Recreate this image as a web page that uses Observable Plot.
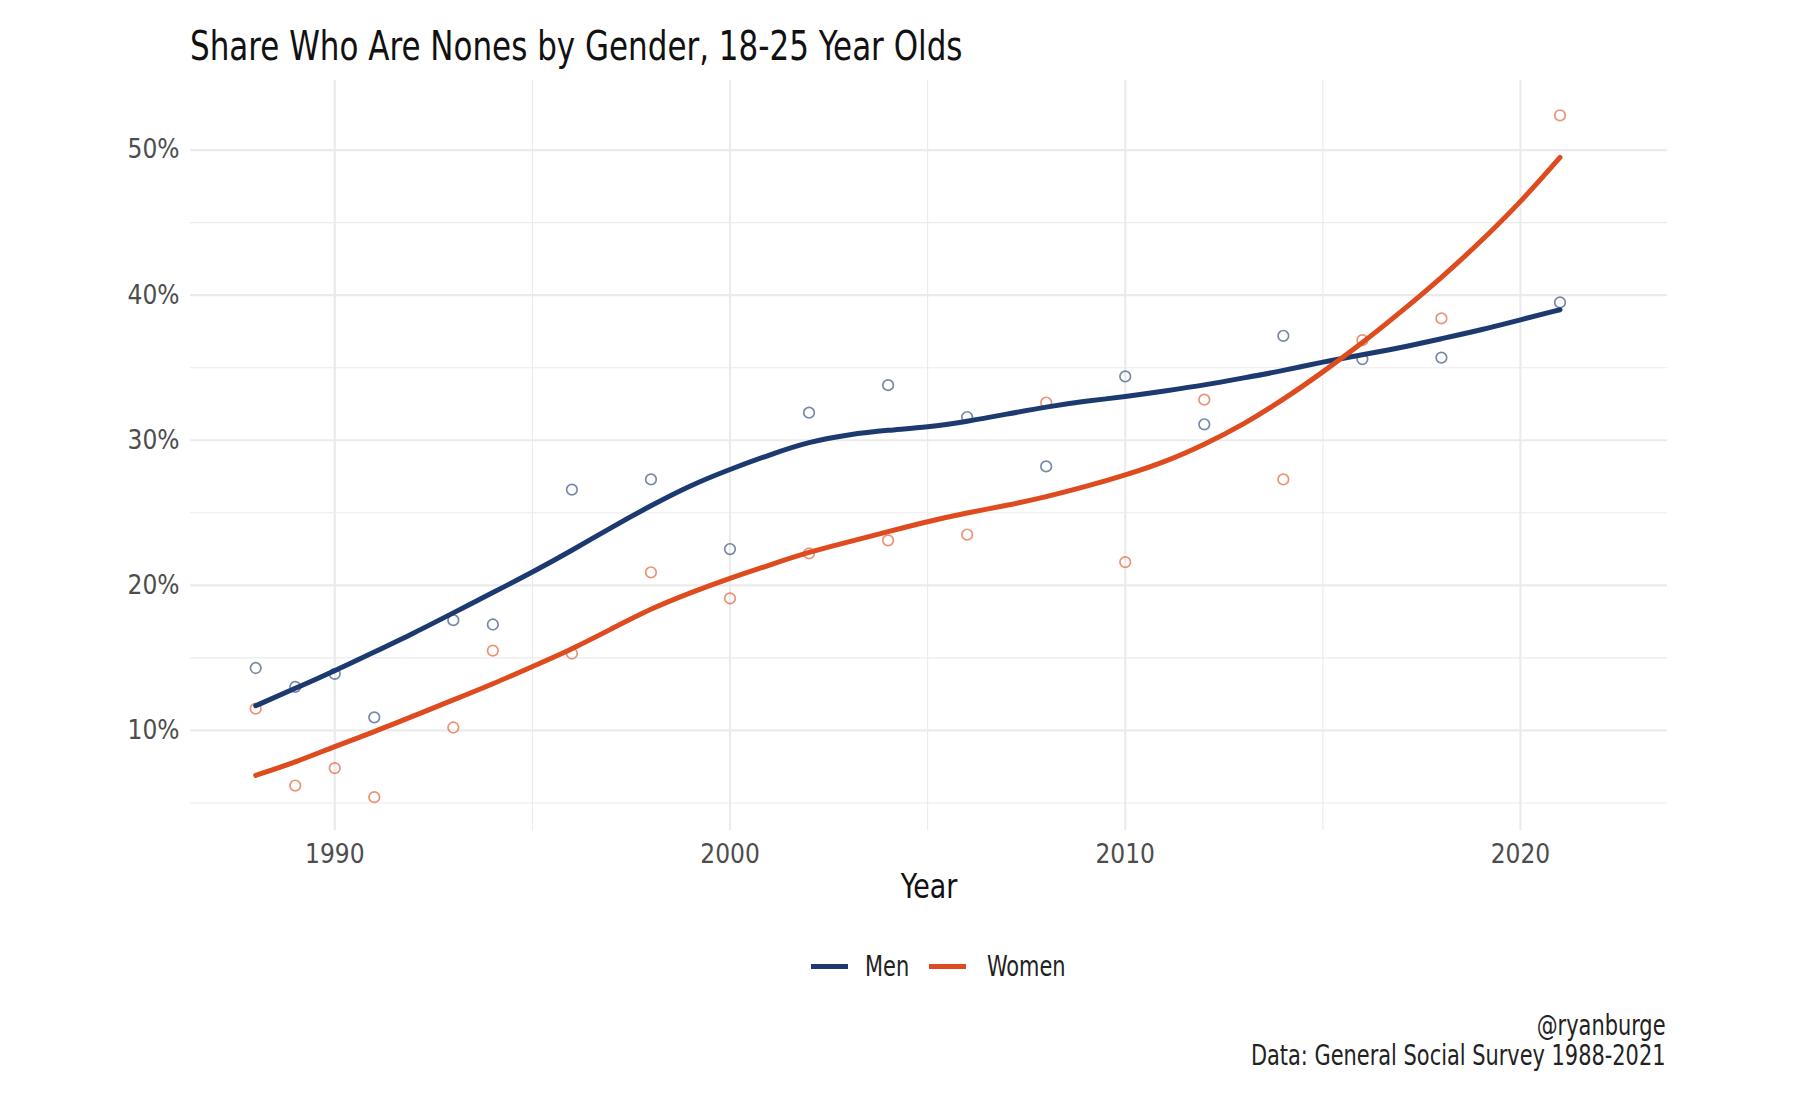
<!DOCTYPE html>
<html>
<head>
<meta charset="utf-8">
<script src="https://cdn.jsdelivr.net/npm/d3@7"></script>
<script src="https://cdn.jsdelivr.net/npm/@observablehq/plot@0.6"></script>
<style>
  html, body { margin: 0; padding: 0; background: #fff; }
  #wrap { position: relative; width: 1808px; height: 1104px; overflow: hidden;
          font-family: "Liberation Sans Narrow", "DejaVu Sans Condensed", "Roboto Condensed", "Noto Sans", sans-serif; }
  #title { position: absolute; left: 190px; top: 26px; font-size: 41px; line-height: 1; color: #111; white-space: nowrap;
           transform: scaleX(0.84); transform-origin: 0 0; }
  #chart { position: absolute; left: 0; top: 70px; }
  .leg { position: absolute; top: 948px; height: 38px; line-height: 38px; font-size: 28px; color: #222; white-space: nowrap;
         transform: scaleX(0.83); transform-origin: 0 50%; }
  .sw { position: absolute; top: 964px; width: 37px; height: 5px; }
  #caption { position: absolute; right: 142px; top: 1011px; text-align: right; font-size: 28px; line-height: 30px; color: #222; white-space: nowrap;
             transform: scaleX(0.83); transform-origin: 100% 0; }
</style>
</head>
<body>
<div id="wrap">
  <div id="title"></div>
  <div id="chart"></div>
  <div id="caption"></div>
</div>
<script>
// ---- data ----
const pointYears = [1988, 1989, 1990, 1991, 1993, 1994, 1996, 1998, 2000, 2002, 2004, 2006, 2008, 2010, 2012, 2014, 2016, 2018, 2021];
const menPoints   = [14.3, 13.0, 13.9, 10.9, 17.6, 17.3, 26.6, 27.3, 22.5, 31.9, 33.8, 31.6, 28.2, 34.4, 31.1, 37.2, 35.6, 35.7, 39.5];
const womenPoints = [11.5, 6.2, 7.4, 5.4, 10.2, 15.5, 15.3, 20.9, 19.1, 22.2, 23.1, 23.5, 32.6, 21.6, 32.8, 27.3, 36.9, 38.4, 52.4];

const smoothYears = [1988, 1989, 1990, 1991, 1992, 1993, 1994, 1995, 1996, 1997, 1998, 1999, 2000, 2001, 2002, 2003, 2004, 2005, 2006, 2007, 2008, 2009, 2010, 2011, 2012, 2013, 2014, 2015, 2016, 2017, 2018, 2019, 2020, 2021];
const menSmooth   = [11.7, 12.9, 14.1, 15.4, 16.7, 18.1, 19.5, 20.9, 22.4, 24.0, 25.5, 26.9, 28.0, 29.0, 29.9, 30.4, 30.7, 30.9, 31.3, 31.8, 32.3, 32.7, 33.0, 33.4, 33.8, 34.3, 34.8, 35.4, 35.9, 36.4, 37.0, 37.6, 38.3, 39.0];
const womenSmooth = [6.9, 7.8, 8.9, 9.9, 11.0, 12.1, 13.2, 14.4, 15.6, 17.0, 18.4, 19.5, 20.5, 21.4, 22.3, 23.0, 23.7, 24.4, 25.0, 25.5, 26.1, 26.8, 27.6, 28.5, 29.7, 31.1, 32.8, 34.7, 36.7, 38.9, 41.2, 43.7, 46.4, 49.5];

const groups = ["Men", "Women"];
const colors = ["#1d3a70", "#dd4b1e"];
const xMajor = [1990, 2000, 2010, 2020];
const xMinor = [1995, 2005, 2015];
const yMajor = [10, 20, 30, 40, 50];
const yMinor = [5, 15, 25, 35, 45];
const titleText = "Share Who Are Nones by Gender, 18-25 Year Olds";
const xLabel = "Year";
const captionLines = ["@ryanburge", "Data: General Social Survey 1988-2021"];

// ---- tables ----
const points = [
  ...pointYears.map((y, i) => ({year: y, value: menPoints[i], group: groups[0]})),
  ...pointYears.map((y, i) => ({year: y, value: womenPoints[i], group: groups[1]}))
];
const smooth = [
  ...smoothYears.map((y, i) => ({year: y, value: menSmooth[i], group: groups[0]})),
  ...smoothYears.map((y, i) => ({year: y, value: womenSmooth[i], group: groups[1]}))
];

const font = '"Liberation Sans Narrow", "DejaVu Sans Condensed", "Roboto Condensed", "Noto Sans", sans-serif';
const grid = "#ebebeb";

const chart = Plot.plot({
  width: 1808,
  height: 850,
  marginLeft: 190,
  marginRight: 141,
  marginTop: 10,
  marginBottom: 90,
  style: {fontFamily: font, background: "transparent", overflow: "visible"},
  x: {domain: [1986.35, 2023.72], label: null},
  y: {domain: [3.1, 54.8], label: null},
  color: {domain: groups, range: colors},
  marks: [
    Plot.ruleX(xMinor, {stroke: grid, strokeWidth: 1.1}),
    Plot.ruleY(yMinor, {stroke: grid, strokeWidth: 1.1}),
    Plot.ruleX(xMajor, {stroke: grid, strokeWidth: 2.2}),
    Plot.ruleY(yMajor, {stroke: grid, strokeWidth: 2.2}),
    Plot.dot(points, {x: "year", y: "value", stroke: "group", r: 5.3, strokeWidth: 1.7, strokeOpacity: 0.6, fill: "none"}),
    Plot.line(smooth, {x: "year", y: "value", stroke: "group", z: "group", strokeWidth: 5, curve: "basis"}),
    Plot.axisX({ticks: xMajor, tickFormat: d => String(d), tickSize: 0, tickPadding: 14, fontSize: 26, color: "#4d4d4d", label: null}),
    Plot.axisY({ticks: yMajor, tickFormat: d => d + "%", tickSize: 0, tickPadding: 11, fontSize: 26, color: "#4d4d4d", label: null}),
    Plot.text([xLabel], {frameAnchor: "bottom", dy: 67, fontSize: 34, fill: "#111", className: "xlabel"})
  ]
});
document.getElementById("chart").appendChild(chart);

// narrow the axis title horizontally (the reference uses a condensed face)
chart.querySelectorAll(".xlabel text").forEach(t => {
  const tr = t.getAttribute("transform") || "";
  const x = t.getAttribute("x"), y = t.getAttribute("y");
  let pre = tr;
  if (x !== null || y !== null) {
    pre += ` translate(${x || 0},${y || 0})`;
    t.removeAttribute("x"); t.removeAttribute("y");
  }
  t.setAttribute("transform", `${pre} scale(0.88,1)`);
});

// legend
const wrap = document.getElementById("wrap");
const swLeft = [811, 929];
const labLeft = [865, 987];
groups.forEach((g, i) => {
  const sw = document.createElement("div");
  sw.className = "sw";
  sw.style.left = swLeft[i] + "px";
  sw.style.background = colors[i];
  const lab = document.createElement("div");
  lab.className = "leg";
  lab.style.left = labLeft[i] + "px";
  lab.textContent = g;
  wrap.appendChild(sw);
  wrap.appendChild(lab);
});

// caption
const cap = document.getElementById("caption");
captionLines.forEach(t => { const d = document.createElement("div"); d.textContent = t; cap.appendChild(d); });
document.getElementById("title").textContent = titleText;
</script>
</body>
</html>
